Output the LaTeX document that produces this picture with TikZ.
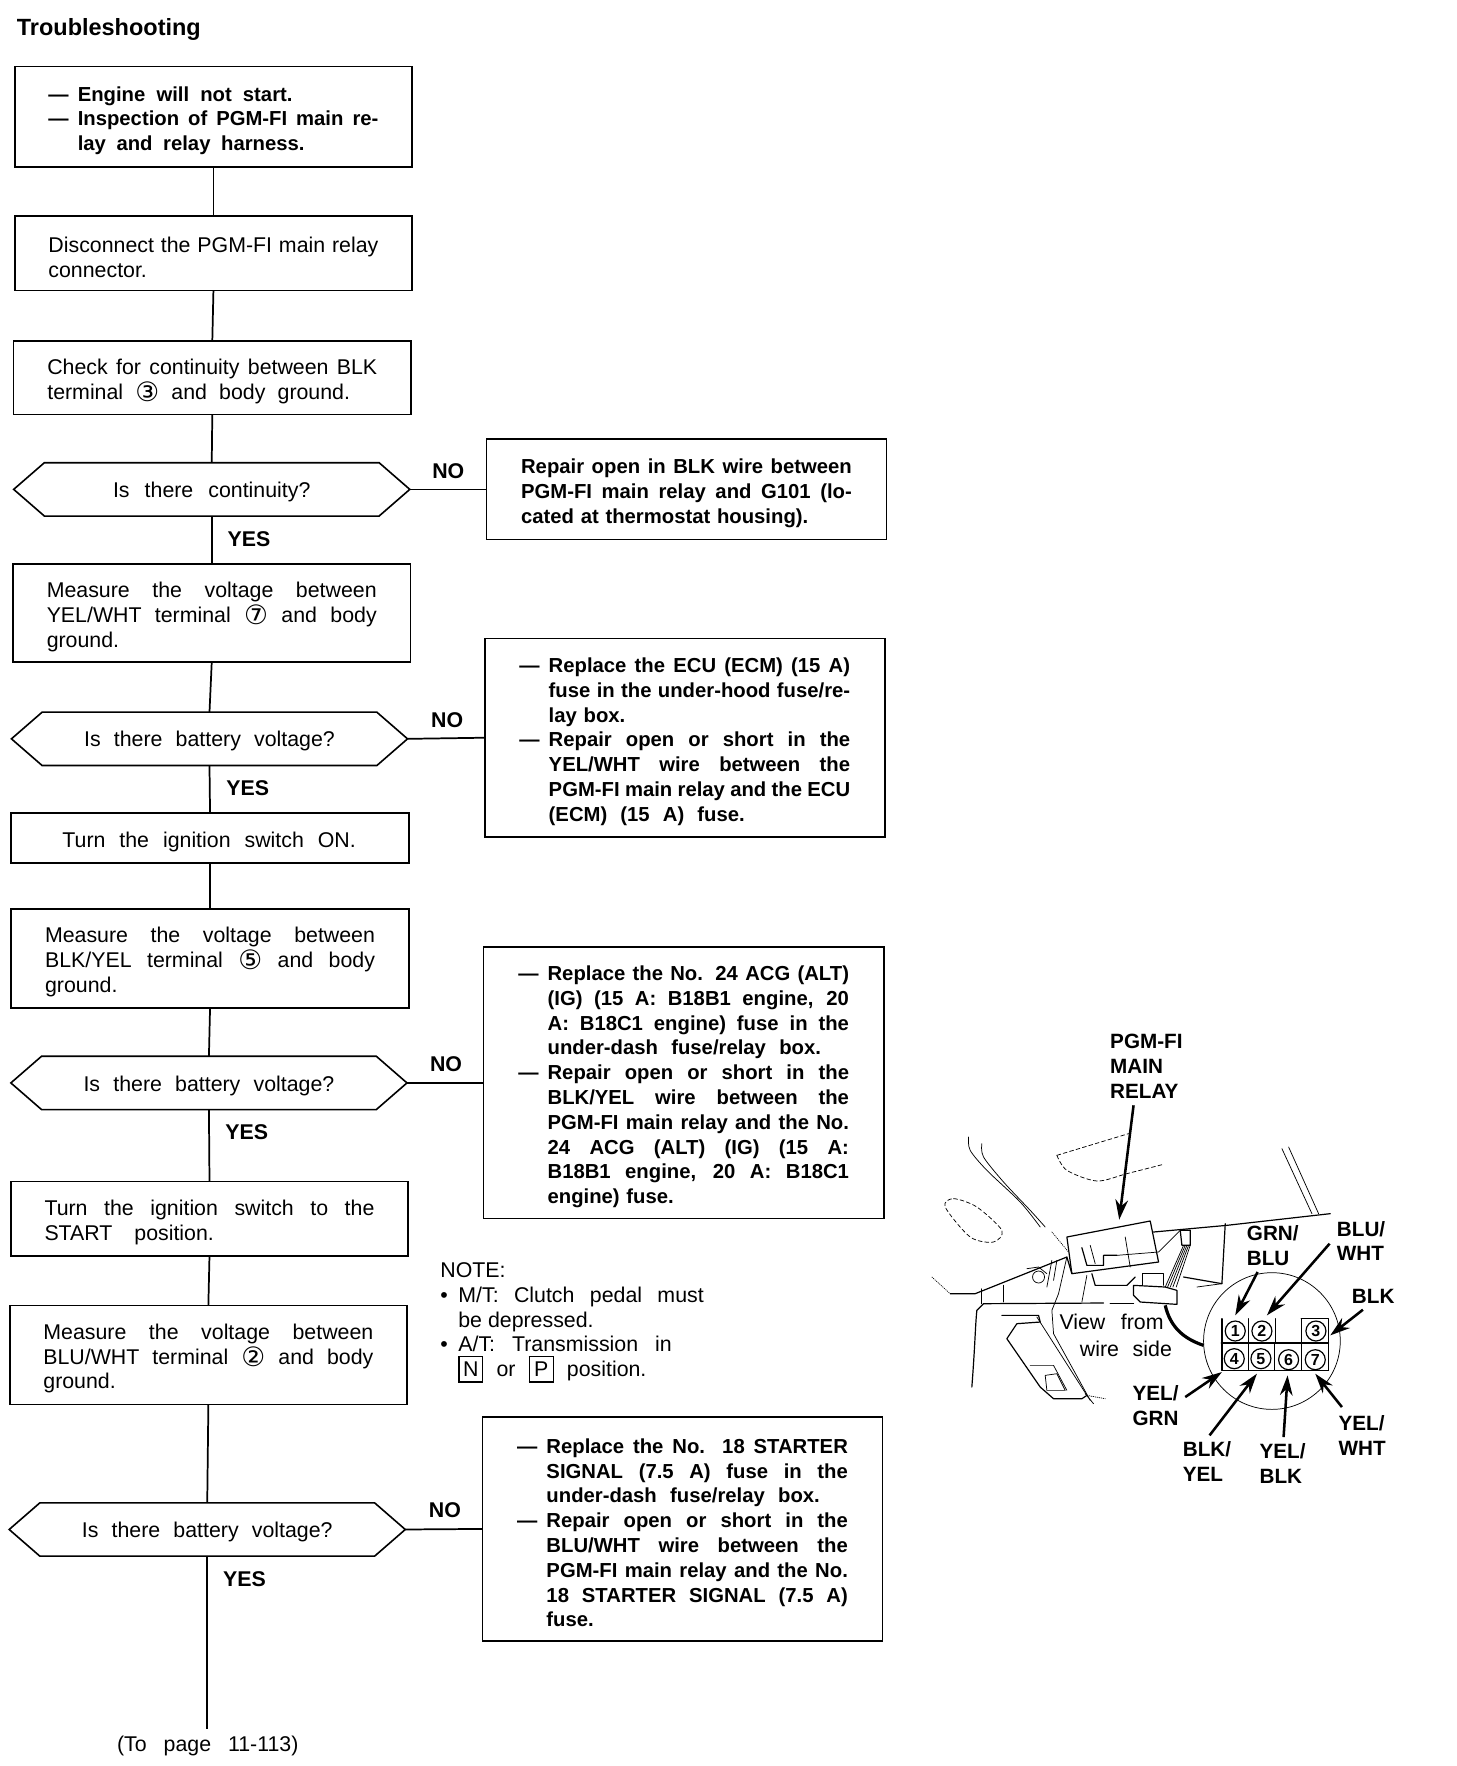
\documentclass[tikz,border=0pt]{standalone}
\usepackage{fontspec}
\setmainfont{Liberation Sans}
\newfontfamily\djv{DejaVu Sans}
\usetikzlibrary{shapes.symbols,arrows.meta}
\newlength{\hi}\setlength{\hi}{22pt}
\newcommand\js[2]{\makebox[#1][s]{\spaceskip=0pt\xspaceskip=0pt\relax #2}}
\newcommand\ja[1]{\js{\hsize}{#1}}
\newcommand\jb[1]{\makebox[\hi][l]{---}\js{\dimexpr\hsize-\hi\relax}{#1}}
\newcommand\jc[1]{\hspace*{\hi}\js{\dimexpr\hsize-\hi\relax}{#1}}
\newcommand\jd[1]{\hspace*{\hi}#1}
\newcommand\jg[2]{\hspace*{\hi}\js{#1}{#2}}
\newcommand\cn[1]{\smash{\raisebox{-1.5pt}{\djv\fontsize{20}{20}\selectfont #1}}}
\newcommand\bx[1]{\smash{\setlength{\fboxsep}{1.5pt}\setlength{\fboxrule}{0.9pt}\fbox{\makebox[14pt][c]{\rule[-2pt]{0pt}{15pt}#1}}}}
\tikzset{
  every node/.style={inner sep=0pt,outer sep=0pt},
  body/.style={font=\fontsize{16}{18.6}\selectfont},
  heavy/.style={font=\bfseries\fontsize{15.2}{18.6}\selectfont},
  flowbox/.style={draw,line width=1.3pt,rectangle,minimum width=298pt,text width=247.4pt,align=left,body,execute at begin node={\rule{0pt}{17pt}}},
  nobox/.style={draw,line width=1.3pt,rectangle,minimum width=300pt,text width=248pt,align=left,heavy,execute at begin node={\rule{0pt}{17pt}}},
  hexa/.style={draw,line width=1.2pt,signal,signal to=west and east,signal pointer angle=82,minimum width=297pt,minimum height=40pt,align=center,body,execute at begin node={\rule{0pt}{15.5pt}}},
  link/.style={line width=1.3pt},
  tag/.style={font=\bfseries\fontsize{16}{18}\selectfont},
  lbl/.style={font=\bfseries\fontsize{15.5}{18.7}\selectfont,align=left,anchor=west},
  thin line/.style={line width=0.55pt,line cap=round,line join=round},
  mid line/.style={line width=0.9pt,line cap=round,line join=round},
  pointer/.style={line width=1.9pt,-{Stealth[length=15pt,width=9.5pt]}},
  pin/.style={circle,draw,line width=0.9pt,minimum size=15pt,font=\bfseries\fontsize{12}{12}\selectfont},
}
\begin{document}
\begin{tikzpicture}[x=0.8445pt,y=-0.8445pt]
\useasboundingbox (0,0) rectangle (1293,1568);
\node[anchor=west,font=\bfseries\fontsize{17.6}{20}\selectfont] (title) at (15,26) {Troubleshooting};
% left column
\node[flowbox,heavy,minimum height=75.2pt] (b1) at (189.5,103.5) {\makebox[\hi][l]{---}\js{161pt}{Engine will not start.}\\\jb{Inspection of PGM-FI main re-}\\\jg{170pt}{lay and relay harness.}};
\node[flowbox,minimum height=55.7pt] (b2) at (189.5,225) {\ja{Disconnect the PGM-FI main relay}\\connector.};
\node[flowbox,minimum height=55pt] (b3) at (188.5,335.5) {\ja{Check for continuity between BLK}\\\js{227pt}{terminal \cn{③} and body ground.}};
\node[hexa] (h1) at (188,434.5) {\js{148pt}{Is there continuity?}};
\node[flowbox,minimum height=73.5pt] (b4) at (188,544.5) {\ja{Measure the voltage between}\\\ja{YEL/WHT terminal \cn{⑦} and body}\\ground.};
\node[hexa] (h2) at (186,656) {\js{188pt}{Is there battery voltage?}};
\node[flowbox,minimum height=37pt] (b5) at (186.5,744) {\hspace*{13pt}\js{220pt}{Turn the ignition switch ON.}};
\node[flowbox,minimum height=74.3pt] (b6) at (186.5,851) {\ja{Measure the voltage between}\\\ja{BLK/YEL terminal \cn{⑤} and body}\\ground.};
\node[hexa] (h3) at (185.5,961.5) {\js{188pt}{Is there battery voltage?}};
\node[flowbox,minimum height=55.7pt] (b7) at (186,1082) {\ja{Turn the ignition switch to the}\\\js{127pt}{START position.}};
\node[flowbox,minimum height=74.3pt] (b8) at (185,1203) {\ja{Measure the voltage between}\\\ja{BLU/WHT terminal \cn{②} and body}\\ground.};
\node[hexa] (h4) at (184,1358) {\js{188pt}{Is there battery voltage?}};
\coordinate (tail) at (184,1535);
\node[body] (topage) at (184.5,1550) {\js{136pt}{(To page 11-113)}};
% right column
\node[nobox,minimum height=75.2pt] (n1) at (609.5,434.5) {\ja{Repair open in BLK wire between}\\\ja{PGM-FI main relay and G101 (lo-}\\cated at thermostat housing).};
\node[nobox,minimum height=148.6pt] (n2) at (608,655) {\jb{Replace the ECU (ECM) (15 A)}\\\jc{fuse in the under-hood fuse/re-}\\\jd{lay box.}\\\jb{Repair open or short in the}\\\jc{YEL/WHT wire between the}\\\jc{PGM-FI main relay and the ECU}\\\jg{147pt}{(ECM) (15 A) fuse.}};
\node[nobox,minimum height=203.5pt] (n3) at (607,961.5) {\jb{Replace the No. 24 ACG (ALT)}\\\jc{(IG) (15 A: B18B1 engine, 20}\\\jc{A: B18C1 engine) fuse in the}\\\jg{205pt}{under-dash fuse/relay box.}\\\jb{Repair open or short in the}\\\jc{BLK/YEL wire between the}\\\jc{PGM-FI main relay and the No.}\\\jc{24 ACG (ALT) (IG) (15 A:}\\\jc{B18B1 engine, 20 A: B18C1}\\\jd{engine) fuse.}};
\node[nobox,minimum height=168pt] (n4) at (606,1357.5) {\jb{Replace the No. 18 STARTER}\\\jc{SIGNAL (7.5 A) fuse in the}\\\jg{205pt}{under-dash fuse/relay box.}\\\jb{Repair open or short in the}\\\jc{BLU/WHT wire between the}\\\jc{PGM-FI main relay and the No.}\\\jc{18 STARTER SIGNAL (7.5 A)}\\\jd{fuse.}};
% connectors
\draw[link] (b1.south) -- (b2.north);
\draw[link] (b2.south) -- (b3.north);
\draw[link] (b3.south) -- (h1.north);
\draw[link] (h1.south) -- (b4.north);
\draw[link] (b4.south) -- (h2.north);
\draw[link] (h2.south) -- (b5.north);
\draw[link] (b5.south) -- (b6.north);
\draw[link] (b6.south) -- (h3.north);
\draw[link] (h3.south) -- (b7.north);
\draw[link] (b7.south) -- (b8.north);
\draw[link] (b8.south) -- (h4.north);
\draw[link] (h4.south) -- (tail);
\draw[link] (h1.east) -- (n1.west);
\draw[link] (h2.east) -- (n2.west);
\draw[link] (h3.east) -- (n3.west);
\draw[link] (h4.east) -- (n4.west);
% labels
\node[tag] (no1) at (398,418) {NO};
\node[tag] (no2) at (397,639) {NO};
\node[tag] (no3) at (396,945) {NO};
\node[tag] (no4) at (395,1341) {NO};
\node[tag] (yes1) at (221,479) {YES};
\node[tag] (yes2) at (220,700) {YES};
\node[tag] (yes3) at (219,1005) {YES};
\node[tag] (yes4) at (217,1402) {YES};
% note
\node[body,anchor=north west,align=left] (note) at (391,1121) {NOTE:\\\makebox[13.5pt][l]{•}\js{184pt}{M/T: Clutch pedal must}\\\hspace*{13.5pt}be depressed.\\\makebox[13.5pt][l]{•}\js{160pt}{A/T: Transmission in}\\\hspace*{13.5pt}\js{141pt}{\bx{N} or \bx{P} position.}};
% illustration, in crop coordinates
\begin{scope}[shift={(817,897)},x=0.25pt,y=-0.25pt]
\draw[thin line] plot[smooth] coordinates {(145,380) (150,420) (200,480) (300,575) (360,650)};
\draw[thin line] plot[smooth] coordinates {(185,400) (190,440) (250,515) (330,600) (375,650)};
\draw[thin line,densely dotted] (395,665) -- (445,725);
\draw[thin line,densely dashed] plot[smooth cycle] coordinates {(75,590) (100,565) (170,590) (245,660) (220,695) (150,680)};
\draw[thin line,densely dashed] (410,435) -- (625,370);
\draw[thin line,densely dashed] plot[smooth] coordinates {(410,435) (440,480) (530,512) (620,490) (730,462)};
\draw[thin line] (1085,415) -- (1175,610);
\draw[thin line] (1105,410) -- (1195,610);
\draw[mid line] (700,665) -- (920,645) -- (1230,610);
\draw[mid line] (440,680) -- (690,632) -- (715,755) -- (455,790) -- cycle;
\draw[mid line] (485,712) -- (500,765) -- (550,765) -- (550,735) -- (590,735);
\draw[thin line] (510,705) -- (525,760);
\draw[thin line] (615,680) -- (630,770);
\draw[thin line] (590,735) -- (715,725) -- (780,660);
\draw[mid line] (90,850) -- (165,850) -- (440,740) -- (455,790);
\draw[thin line,densely dotted] (35,800) -- (90,850);
\draw[thin line] (185,835) -- (185,880);
\draw[thin line] (250,825) -- (250,875);
\draw[mid line] (155,1130) .. controls (165,1000) and (165,950) .. (170,900) -- (190,880) -- (550,878);
\draw[mid line] (570,880) -- (640,880);
\draw[thin line] (355,800) circle[radius=18];
\draw[thin line] (320,775) -- (355,770) -- (380,790);
\draw[thin line] (395,750) -- (380,830);
\draw[thin line] (410,750) -- (400,810);
\draw[thin line] (440,740) -- (415,850) -- (395,900) -- (400,970) -- (510,1170);
\draw[thin line] (500,795) -- (485,875);
\draw[mid line] (515,790) -- (525,825) -- (620,825) -- (645,800);
\draw[mid line] (640,825) -- (640,855) -- (660,875) -- (770,882) -- (770,840) -- (735,830) -- cycle;
\draw[thin line] (665,825) -- (665,790) -- (730,790) -- (730,825);
\draw[mid line] (780,660) -- (810,660) -- (810,705) -- (785,705) -- cycle;
\foreach \a/\b in {790/735,795/742,800/750,805/758,810/768}{\draw[thin line] (\a,705) -- (\b,830);}
\draw[mid line] (915,640) -- (905,820) -- (790,800);
\draw[thin line] (905,820) -- (830,830);
\draw[mid line] (245,915) -- (355,915) -- (360,935) -- (290,940) -- (260,985) -- (360,1130) -- (400,1165) -- (485,1165) -- (500,1155);
\draw[thin line] (350,920) -- (500,1155);
\draw[thin line] (375,1095) -- (410,1090) -- (435,1140) -- (380,1140) -- cycle;
\draw[thin line] (330,1065) -- (400,1065) -- (440,1140);
\draw[thin line] (495,1150) -- (520,1180);
\draw[thin line,densely dotted] (500,1155) -- (555,1165);
% detail circle and connector face
\draw[thin line] (1055,992) circle[radius=205];
\draw[line width=2.4pt] (735,885) .. controls (750,950) and (790,985) .. (850,1005);
\fill[white] (905,922) rectangle (1225,1082);
\draw[mid line] (903,998) -- (1225,998);
\draw[mid line] (905,1080) -- (1225,1080);
\draw[mid line] (905,925) -- (905,1080);
\draw[mid line] (985,925) -- (985,1080);
\draw[mid line] (1065,925) -- (1065,998);
\draw[mid line] (1062,998) -- (1062,1080);
\draw[mid line] (1143,925) -- (1143,1080);
\draw[mid line] (1143,925) -- (1225,925) -- (1225,1080);
\node[pin] (p1) at (945,962) {1};
\node[pin] (p2) at (1025,962) {2};
\node[pin] (p3) at (1187,962) {3};
\node[pin] (p4) at (942,1045) {4};
\node[pin] (p5) at (1022,1045) {5};
\node[pin] (p6) at (1105,1048) {6};
\node[pin] (p7) at (1185,1048) {7};
% labels
\node[lbl] (lrelay) at (570,168) {PGM-FI\\MAIN\\RELAY};
\node[lbl] (lgb) at (980,707) {GRN/\\BLU};
\node[lbl] (lbw) at (1250,692) {BLU/\\WHT};
\node[lbl] (lblk) at (1295,858) {BLK};
\node[lbl] (lyg) at (637,1186) {YEL/\\GRN};
\node[lbl] (lby) at (788,1352) {BLK/\\YEL};
\node[lbl] (lyb) at (1018,1358) {YEL/\\BLK};
\node[lbl] (lyw) at (1255,1275) {YEL/\\WHT};
\node[body,anchor=east] (view) at (730,935) {\js{78pt}{View from}};
\node[body,anchor=east] (wire) at (755,1015) {\js{69pt}{wire side}};
% arrows
\coordinate (a1s) at (640,285); \coordinate (a1e) at (597,628);
\coordinate (a2s) at (1012,785); \coordinate (a2e) at (945,915);
\coordinate (a3s) at (1228,700); \coordinate (a3e) at (1040,915);
\coordinate (a4s) at (1328,898); \coordinate (a4e) at (1230,975);
\coordinate (a5s) at (795,1160); \coordinate (a5e) at (905,1085);
\coordinate (a6s) at (868,1275); \coordinate (a6e) at (1010,1090);
\coordinate (a7s) at (1090,1280); \coordinate (a7e) at (1102,1095);
\coordinate (a8s) at (1265,1190); \coordinate (a8e) at (1185,1090);
\foreach \k in {1,...,8}{\draw[pointer] (a\k s) -- (a\k e);}
\end{scope}
\end{tikzpicture}
\end{document}
